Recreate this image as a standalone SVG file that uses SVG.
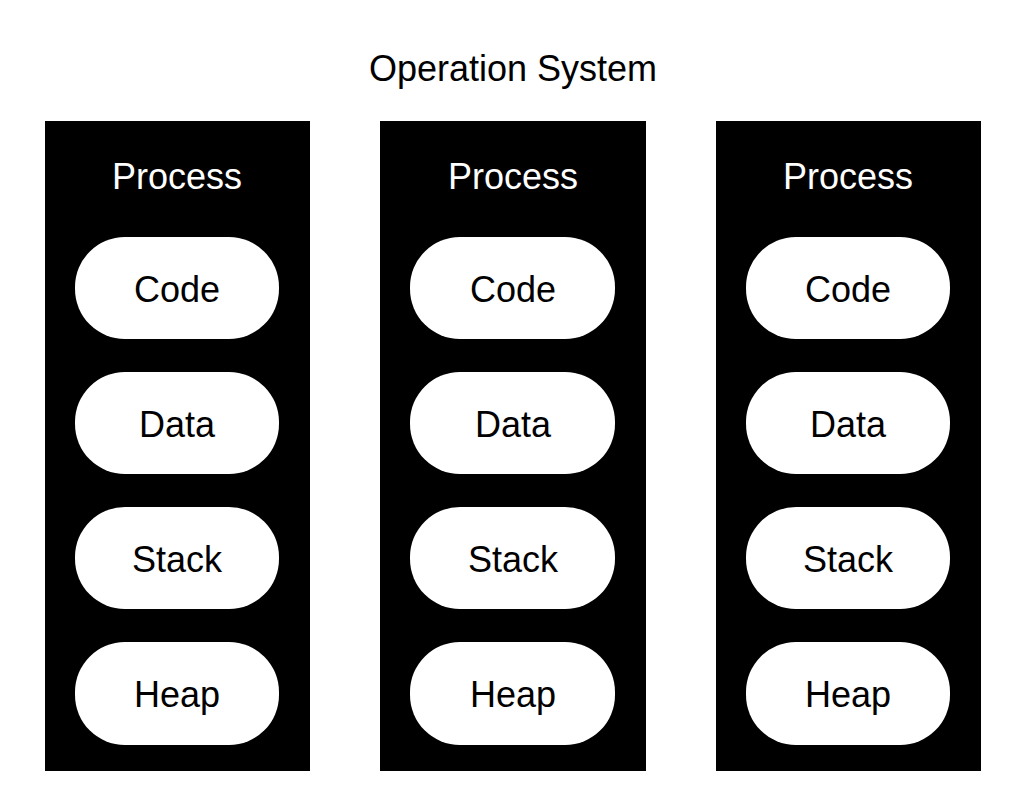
<svg xmlns="http://www.w3.org/2000/svg" width="1028" height="804" viewBox="0 0 1028 804">
<style>
.bg{fill:#fff}
.proc{fill:#000}
.pill{fill:#fff}
text{font-family:"Liberation Sans",Arial,sans-serif;font-size:36px;text-anchor:middle}
.w{fill:#fff}
.k{fill:#000}
</style>
<rect class="bg" x="0" y="0" width="1028" height="804"/>
<text class="k" x="513" y="81">Operation System</text>
<g id="process1">
<rect class="proc" x="45" y="121" width="265" height="650"/>
<text class="w" x="177" y="189">Process</text>
<g id="p1-code"><rect class="pill" x="75" y="237" width="204" height="102" rx="50"/><text class="k" x="177" y="302">Code</text></g>
<g id="p1-data"><rect class="pill" x="75" y="372" width="204" height="102" rx="50"/><text class="k" x="177" y="437">Data</text></g>
<g id="p1-stack"><rect class="pill" x="75" y="507" width="204" height="102" rx="50"/><text class="k" x="177" y="572">Stack</text></g>
<g id="p1-heap"><rect class="pill" x="75" y="642" width="204" height="103" rx="50"/><text class="k" x="177" y="707">Heap</text></g>
</g>
<g id="process2">
<rect class="proc" x="380" y="121" width="266" height="650"/>
<text class="w" x="513" y="189">Process</text>
<g id="p2-code"><rect class="pill" x="410" y="237" width="205" height="102" rx="50"/><text class="k" x="513" y="302">Code</text></g>
<g id="p2-data"><rect class="pill" x="410" y="372" width="205" height="102" rx="50"/><text class="k" x="513" y="437">Data</text></g>
<g id="p2-stack"><rect class="pill" x="410" y="507" width="205" height="102" rx="50"/><text class="k" x="513" y="572">Stack</text></g>
<g id="p2-heap"><rect class="pill" x="410" y="642" width="205" height="103" rx="50"/><text class="k" x="513" y="707">Heap</text></g>
</g>
<g id="process3">
<rect class="proc" x="716" y="121" width="265" height="650"/>
<text class="w" x="848" y="189">Process</text>
<g id="p3-code"><rect class="pill" x="746" y="237" width="204" height="102" rx="50"/><text class="k" x="848" y="302">Code</text></g>
<g id="p3-data"><rect class="pill" x="746" y="372" width="204" height="102" rx="50"/><text class="k" x="848" y="437">Data</text></g>
<g id="p3-stack"><rect class="pill" x="746" y="507" width="204" height="102" rx="50"/><text class="k" x="848" y="572">Stack</text></g>
<g id="p3-heap"><rect class="pill" x="746" y="642" width="204" height="103" rx="50"/><text class="k" x="848" y="707">Heap</text></g>
</g>
<g id="connectors"></g>
</svg>
